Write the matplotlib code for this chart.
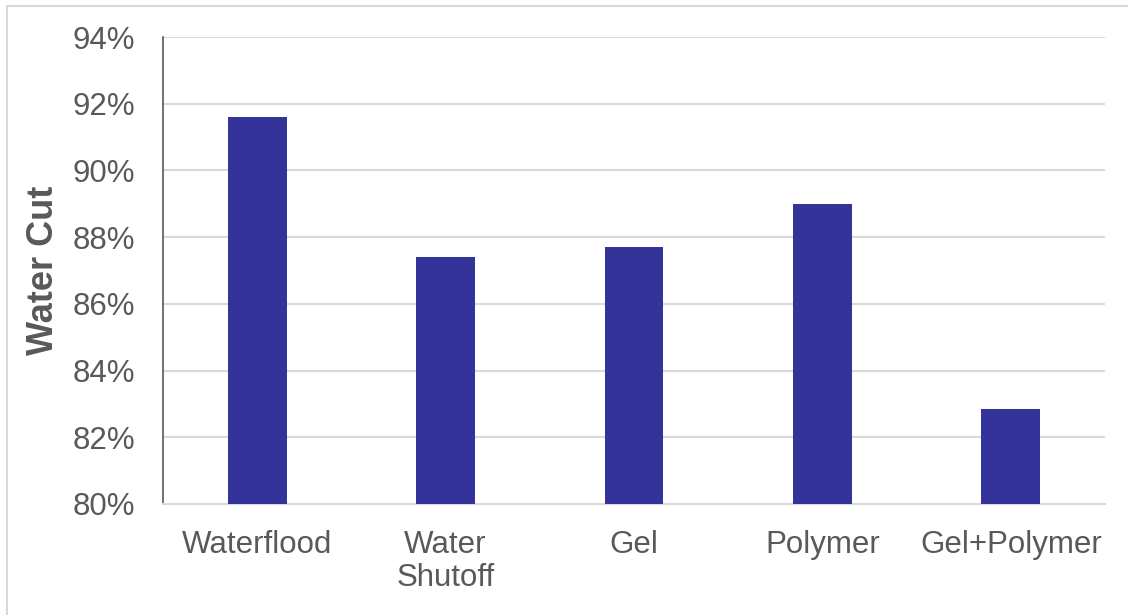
import matplotlib.pyplot as plt
import numpy as np
from matplotlib.patches import Rectangle
from matplotlib.ticker import PercentFormatter

categorias = ["Waterflood", "Water\nShutoff", "Gel", "Polymer", "Gel+Polymer"]
corte_agua = [91.6, 87.4, 87.7, 89.0, 82.85]

gris_texto = "#595959"
gris_rejilla = "#d9d9d9"

plt.rcParams['font.family'] = ['Liberation Sans', 'DejaVu Sans']

fig = plt.figure(figsize=(11.28, 6.15), dpi=100)
ax = fig.add_axes([0.1445, 0.1805, 0.8351, 0.7593])

x = np.arange(len(categorias))
ax.bar(x, corte_agua, width=0.313, color="#333399", zorder=3)

ax.set_xlim(-0.5, len(categorias) - 0.5)
ax.set_ylim(80, 94)
ax.set_yticks(np.arange(80, 95, 2))
ax.yaxis.set_major_formatter(PercentFormatter(decimals=0))
ax.set_xticks(x)
ax.set_xticklabels(categorias, linespacing=1.1)

ax.grid(axis='y', color=gris_rejilla, linewidth=1.5, zorder=0)
ax.tick_params(axis='both', length=0, labelsize=22.5, colors=gris_texto)
ax.tick_params(axis='y', pad=20)
ax.tick_params(axis='x', pad=19)

for lado in ['top', 'right']:
    ax.spines[lado].set_visible(False)
ax.spines['left'].set_color(gris_texto)
ax.spines['left'].set_linewidth(1.2)
ax.spines['bottom'].set_color(gris_rejilla)
ax.spines['bottom'].set_linewidth(1.5)

ax.set_ylabel("Water Cut", fontsize=26, fontweight='bold', color=gris_texto, labelpad=8)

# marco exterior del gráfico
fig.patches.append(Rectangle((7 / 1128, -0.1), 1.2, 1.1 - 6 / 615,
                             transform=fig.transFigure, fill=False,
                             edgecolor=gris_rejilla, linewidth=1.5))

fig.savefig("out.png", dpi=100)
